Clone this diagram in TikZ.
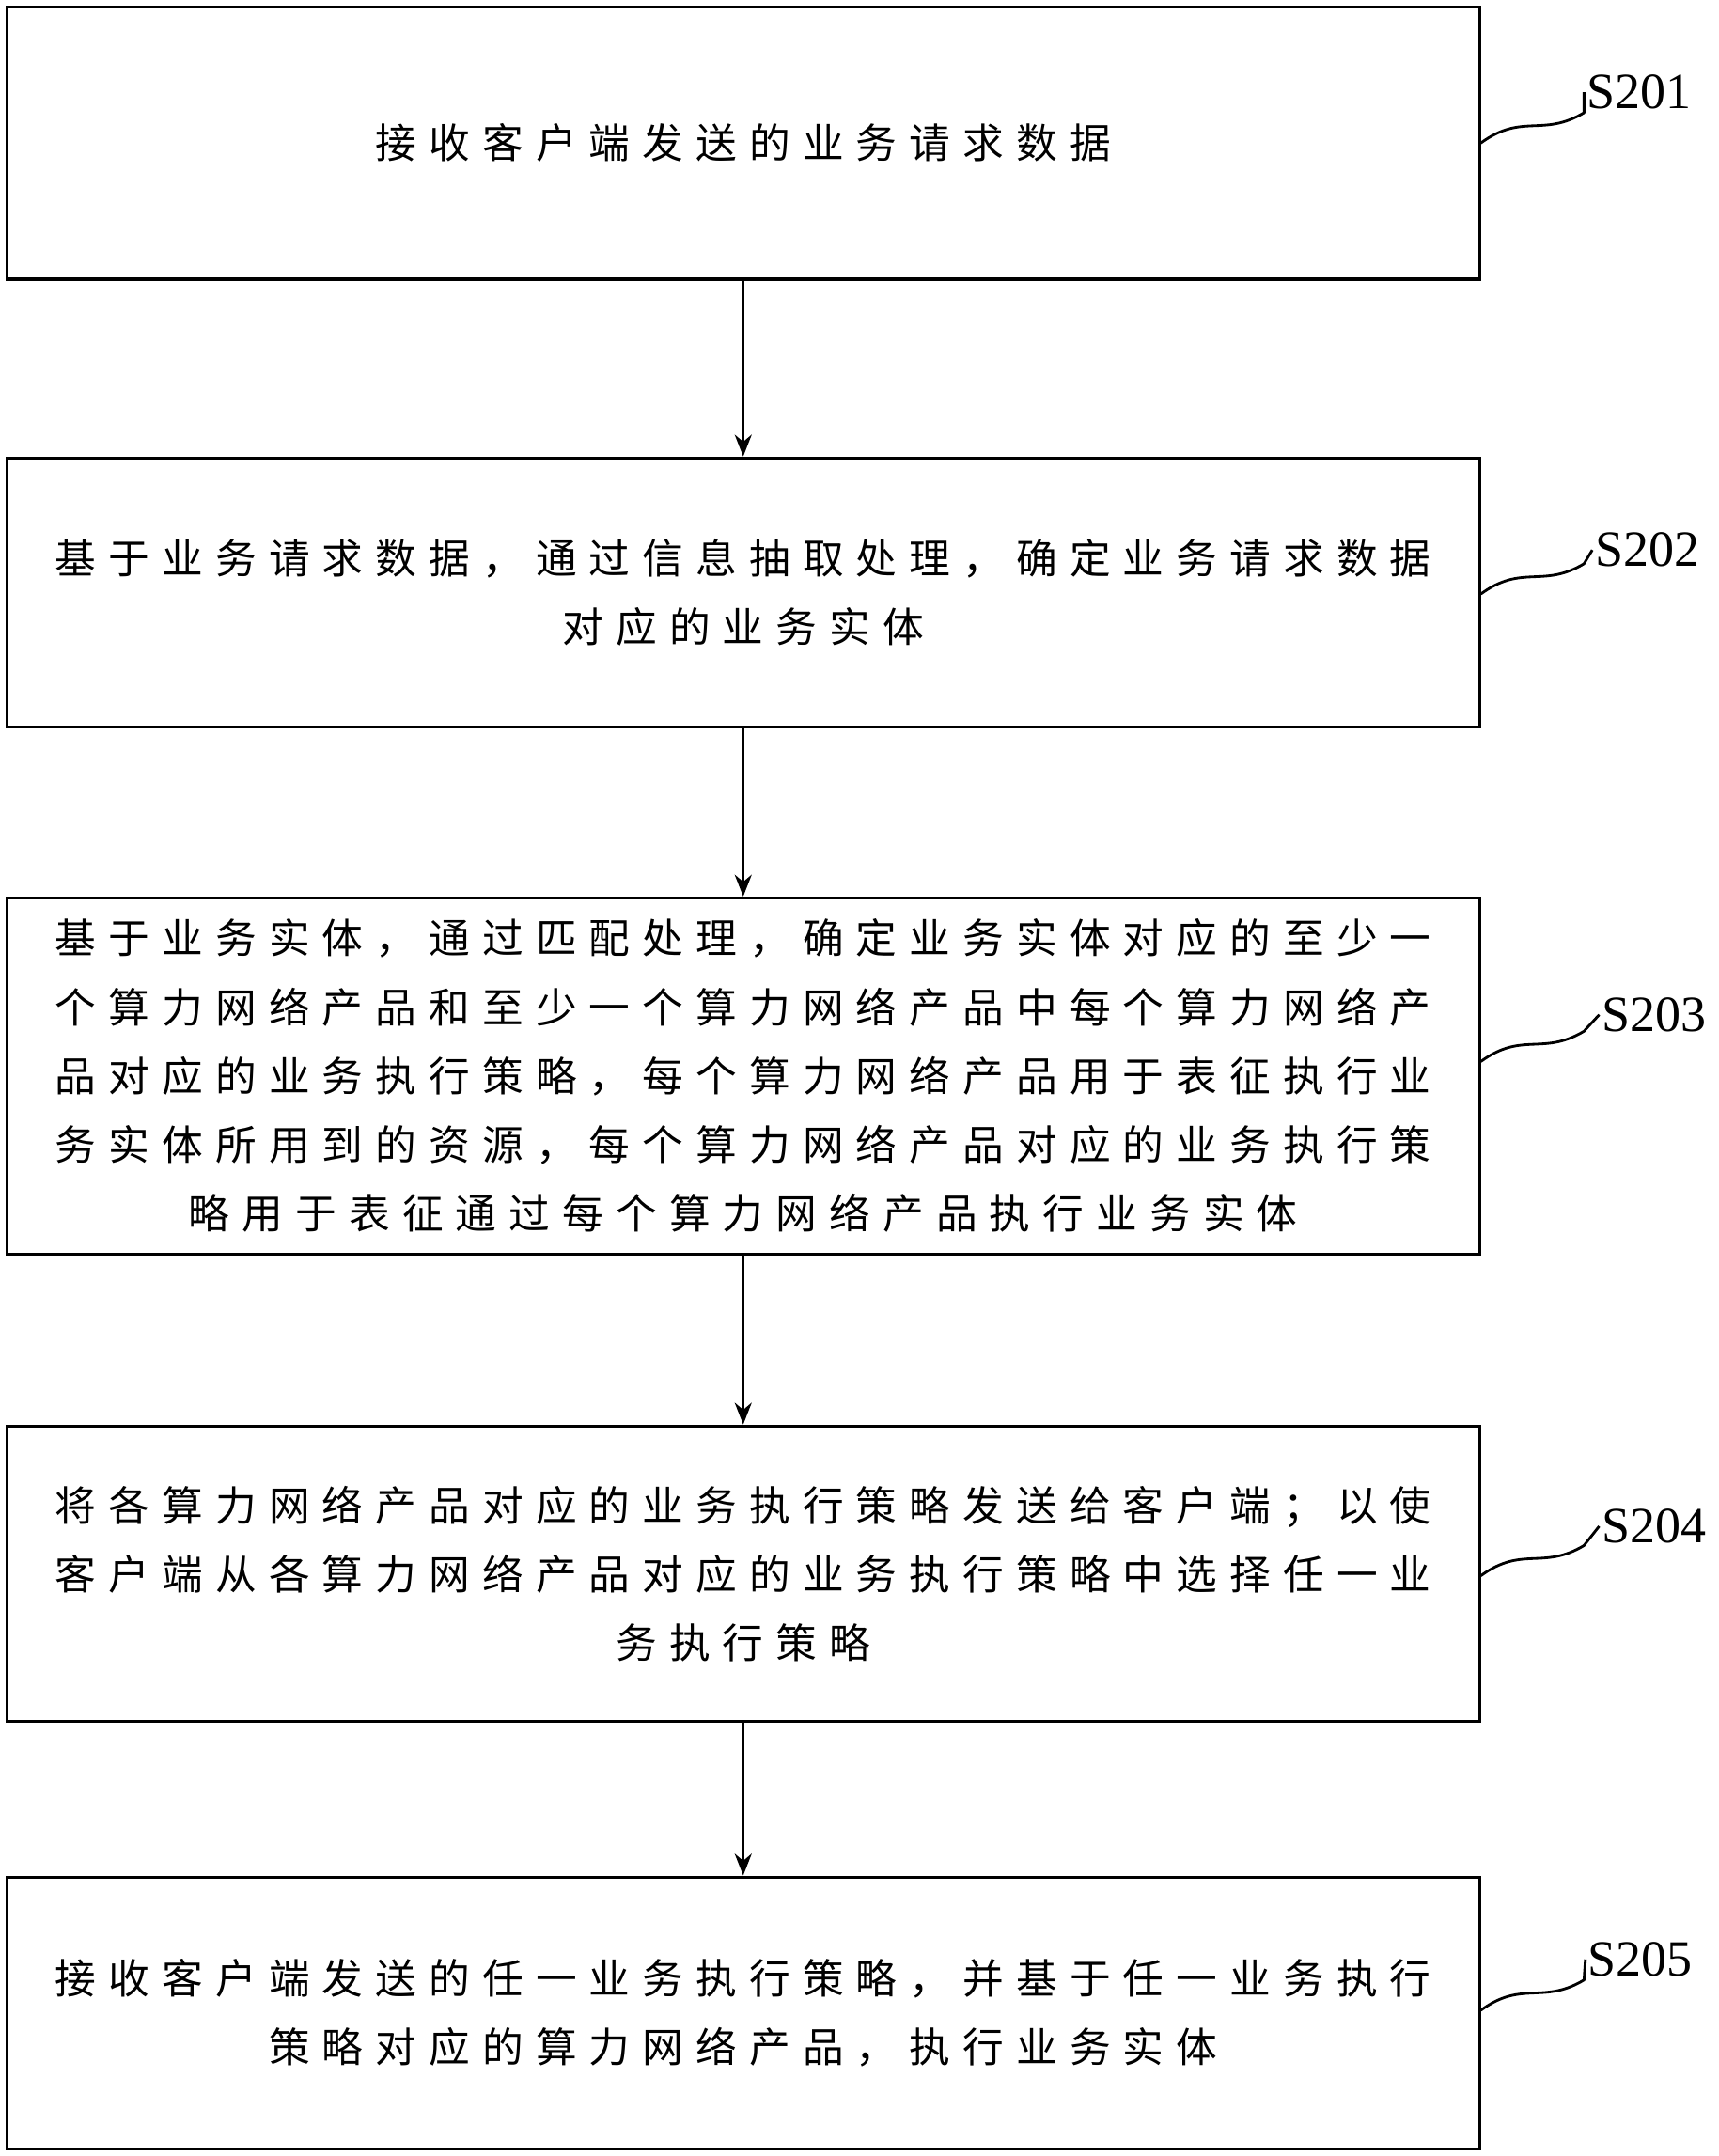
\documentclass[tikz,border=0pt]{standalone}
\usetikzlibrary{arrows.meta}
\usepackage{fontspec}
\newfontfamily\cjk[LetterSpace=30]{Noto Sans CJK SC}
\setmainfont{Liberation Serif}
\begin{document}
\begin{tikzpicture}[x=0.02cm,y=-0.02cm,
  box/.style={draw,line width=1.2pt,minimum width=21.42cm,align=center,font=\fontsize{17}{28.5}\selectfont\cjk,inner sep=0pt},
  lab/.style={font=\fontsize{21}{24}\selectfont,anchor=west,inner sep=1pt},
  arr/.style={-{Stealth[length=9pt,width=7pt]},line width=1.2pt},
  sq/.style={line width=1.1pt}]
\useasboundingbox (0,0) rectangle (1250,1568);
\node[box,minimum height=3.96cm] (b1) at (540.5,104) {接收客户端发送的业务请求数据};
\node[box,minimum height=3.92cm] (b2) at (540.5,431) {基于业务请求数据，通过信息抽取处理，确定业务请求数据\\对应的业务实体};
\node[box,minimum height=5.18cm] (b3) at (540.5,782.5) {基于业务实体，通过匹配处理，确定业务实体对应的至少一\\个算力网络产品和至少一个算力网络产品中每个算力网络产\\品对应的业务执行策略，每个算力网络产品用于表征执行业\\务实体所用到的资源，每个算力网络产品对应的业务执行策\\略用于表征通过每个算力网络产品执行业务实体};
\node[box,minimum height=4.3cm] (b4) at (540.5,1144.5) {将各算力网络产品对应的业务执行策略发送给客户端；以使\\客户端从各算力网络产品对应的业务执行策略中选择任一业\\务执行策略};
\node[box,minimum height=3.96cm] (b5) at (540.5,1464) {接收客户端发送的任一业务执行策略，并基于任一业务执行\\策略对应的算力网络产品，执行业务实体};
\draw[arr] (b1) -- (b2);
\draw[arr] (b2) -- (b3);
\draw[arr] (b3) -- (b4);
\draw[arr] (b4) -- (b5);
\node[lab] (l1) at (1152,67) {S201};
\node[lab] (l2) at (1158,400) {S202};
\node[lab] (l3) at (1163,738) {S203};
\node[lab] (l4) at (1163,1110) {S204};
\node[lab] (l5) at (1153,1425) {S205};
\foreach \b/\l/\y in {b1/l1/104,b2/l2/432,b3/l3/772,b4/l4/1146,b5/l5/1462}{
  \coordinate (t) at (0,\y);
  \draw[sq] (\b.east |- t) .. controls +(30,-22) and +(-30,18) .. ++(75,-22) -- (\l.west);
}
\end{tikzpicture}
\end{document}
